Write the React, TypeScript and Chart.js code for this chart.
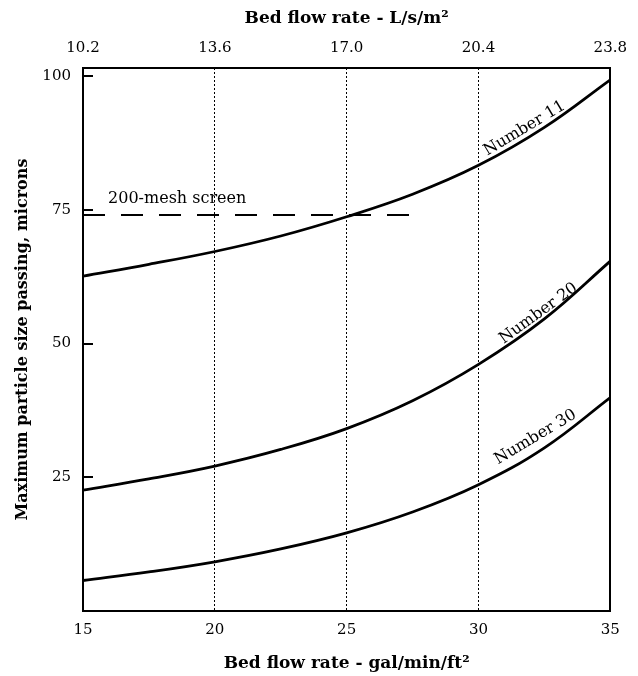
import React, { useEffect, useRef } from 'react';
import { Chart, registerables } from 'chart.js';

Chart.register(...registerables);

// Bed flow rate, gal/min/ft²
const flowRates = [15, 17.5, 20, 22.5, 25, 27.5, 30, 32.5, 35];
// Maximum particle size passing (microns) per curve
const number11 = [62.6, 64.8, 67.2, 70.1, 73.7, 77.9, 83.3, 90.4, 99.3];
const number20 = [22.6, 24.7, 27.1, 30.2, 34.1, 39.3, 46.1, 54.6, 65.4];
const number30 = [5.7, 7.3, 9.2, 11.6, 14.6, 18.5, 23.6, 30.5, 39.9];
// 200-mesh screen reference line
const meshX = [15, 27.7];
const meshY = [74, 74];

const bottomTicks = [15, 20, 25, 30, 35];
const topTickLabels = ['10.2', '13.6', '17.0', '20.4', '23.8'];
const yTicks = [25, 50, 75, 100];
const guideLines = [20, 25, 30];

const curveLabels = [
  { text: 'Number 11', x: 31.75, y: 90.2, angle: -31 },
  { text: 'Number 20', x: 32.28, y: 55.6, angle: -36 },
  { text: 'Number 30', x: 32.16, y: 32.5, angle: -31 },
];
const meshLabel = { text: '200-mesh screen', x: 15.95, y: 77.1 };

const FONT = "'DejaVu Serif', serif";

const toPoints = (xs: number[], ys: number[]) => xs.map((x, i) => ({ x, y: ys[i] }));

const overlayPlugin = {
  id: 'overlay',
  afterDatasetsDraw(chart: any) {
    const { ctx, chartArea, scales } = chart;
    const x = scales.x;
    const y = scales.y;
    ctx.save();
    // inward y tick marks
    ctx.strokeStyle = '#000';
    ctx.lineWidth = 2;
    yTicks.forEach((v) => {
      const py = Math.round(y.getPixelForValue(v));
      ctx.beginPath();
      ctx.moveTo(chartArea.left, py);
      ctx.lineTo(chartArea.left + 10, py);
      ctx.stroke();
    });
    // curve labels
    ctx.fillStyle = '#000';
    ctx.font = `16px ${FONT}`;
    ctx.textAlign = 'center';
    ctx.textBaseline = 'middle';
    curveLabels.forEach((l) => {
      ctx.save();
      ctx.translate(x.getPixelForValue(l.x), y.getPixelForValue(l.y));
      ctx.rotate((l.angle * Math.PI) / 180);
      ctx.fillText(l.text, 0, 0);
      ctx.restore();
    });
    ctx.textAlign = 'left';
    ctx.fillText(meshLabel.text, x.getPixelForValue(meshLabel.x), y.getPixelForValue(meshLabel.y));
    ctx.restore();
  },
};

export default function App() {
  const canvasRef = useRef<HTMLCanvasElement | null>(null);

  useEffect(() => {
    if (!canvasRef.current) return;
    const lineStyle = {
      borderColor: '#000',
      borderWidth: 2.8,
      pointRadius: 0,
      fill: false,
      tension: 0.4,
    };
    const chart = new Chart(canvasRef.current, {
      type: 'line',
      data: {
        datasets: [
          { label: 'Number 11', data: toPoints(flowRates, number11), ...lineStyle },
          { label: 'Number 20', data: toPoints(flowRates, number20), ...lineStyle },
          { label: 'Number 30', data: toPoints(flowRates, number30), ...lineStyle },
          {
            label: '200-mesh screen',
            data: toPoints(meshX, meshY),
            borderColor: '#000',
            borderWidth: 2,
            borderDash: [22, 16],
            pointRadius: 0,
            fill: false,
          },
        ],
      },
      options: {
        animation: false,
        responsive: true,
        maintainAspectRatio: false,
        layout: { padding: 0 },
        plugins: {
          legend: { display: false },
          tooltip: { enabled: false },
        },
        scales: {
          x: {
            type: 'linear',
            position: 'bottom',
            min: 15,
            max: 35,
            afterBuildTicks: (s: any) => {
              s.ticks = bottomTicks.map((v) => ({ value: v }));
            },
            afterFit: (s: any) => {
              s.height = 65;
            },
            ticks: {
              color: '#000',
              padding: 10,
              font: { family: FONT, size: 15 },
              maxRotation: 0,
            },
            grid: {
              drawTicks: false,
              lineWidth: 1,
              color: (c: any) => (c.tick && guideLines.includes(c.tick.value) ? '#000' : 'rgba(0,0,0,0)'),
            },
            border: { display: true, color: '#000', width: 2, dash: [2, 2] },
            title: {
              display: true,
              text: 'Bed flow rate - gal/min/ft²',
              color: '#000',
              font: { family: FONT, size: 17, weight: 'bold' },
              padding: { top: 0, bottom: 2 },
            },
          },
          x2: {
            type: 'linear',
            position: 'top',
            min: 15,
            max: 35,
            afterBuildTicks: (s: any) => {
              s.ticks = bottomTicks.map((v) => ({ value: v }));
            },
            afterFit: (s: any) => {
              s.height = 68;
            },
            ticks: {
              color: '#000',
              padding: 11,
              font: { family: FONT, size: 15 },
              maxRotation: 0,
              callback: (_v: any, i: number) => topTickLabels[i],
            },
            grid: { display: false, drawTicks: false },
            border: { display: true, color: '#000', width: 2 },
            title: {
              display: true,
              text: 'Bed flow rate - L/s/m²',
              color: '#000',
              font: { family: FONT, size: 17, weight: 'bold' },
              padding: { top: 8, bottom: 0 },
            },
          },
          y: {
            type: 'linear',
            position: 'left',
            min: 0,
            max: 101.5,
            afterBuildTicks: (s: any) => {
              s.ticks = yTicks.map((v) => ({ value: v }));
            },
            afterFit: (s: any) => {
              s.width = 83;
            },
            ticks: {
              color: '#000',
              padding: 12,
              font: { family: FONT, size: 15 },
            },
            grid: { display: false, drawTicks: false },
            border: { display: true, color: '#000', width: 2 },
            title: {
              display: true,
              text: 'Maximum particle size passing, microns',
              color: '#000',
              font: { family: FONT, size: 16, weight: 'bold' },
              padding: { top: 13, bottom: 0 },
            },
          },
          y2: {
            type: 'linear',
            position: 'right',
            min: 0,
            max: 101.5,
            afterFit: (s: any) => {
              s.width = 26;
            },
            ticks: { display: false },
            grid: { display: false, drawTicks: false },
            border: { display: true, color: '#000', width: 2 },
          },
        },
      },
      plugins: [overlayPlugin],
    } as any);
    return () => chart.destroy();
  }, []);

  return (
    <div style={{ position: 'absolute', left: 0, top: 0, width: 638, height: 676, background: '#fff' }}>
      <canvas ref={canvasRef} />
    </div>
  );
}
